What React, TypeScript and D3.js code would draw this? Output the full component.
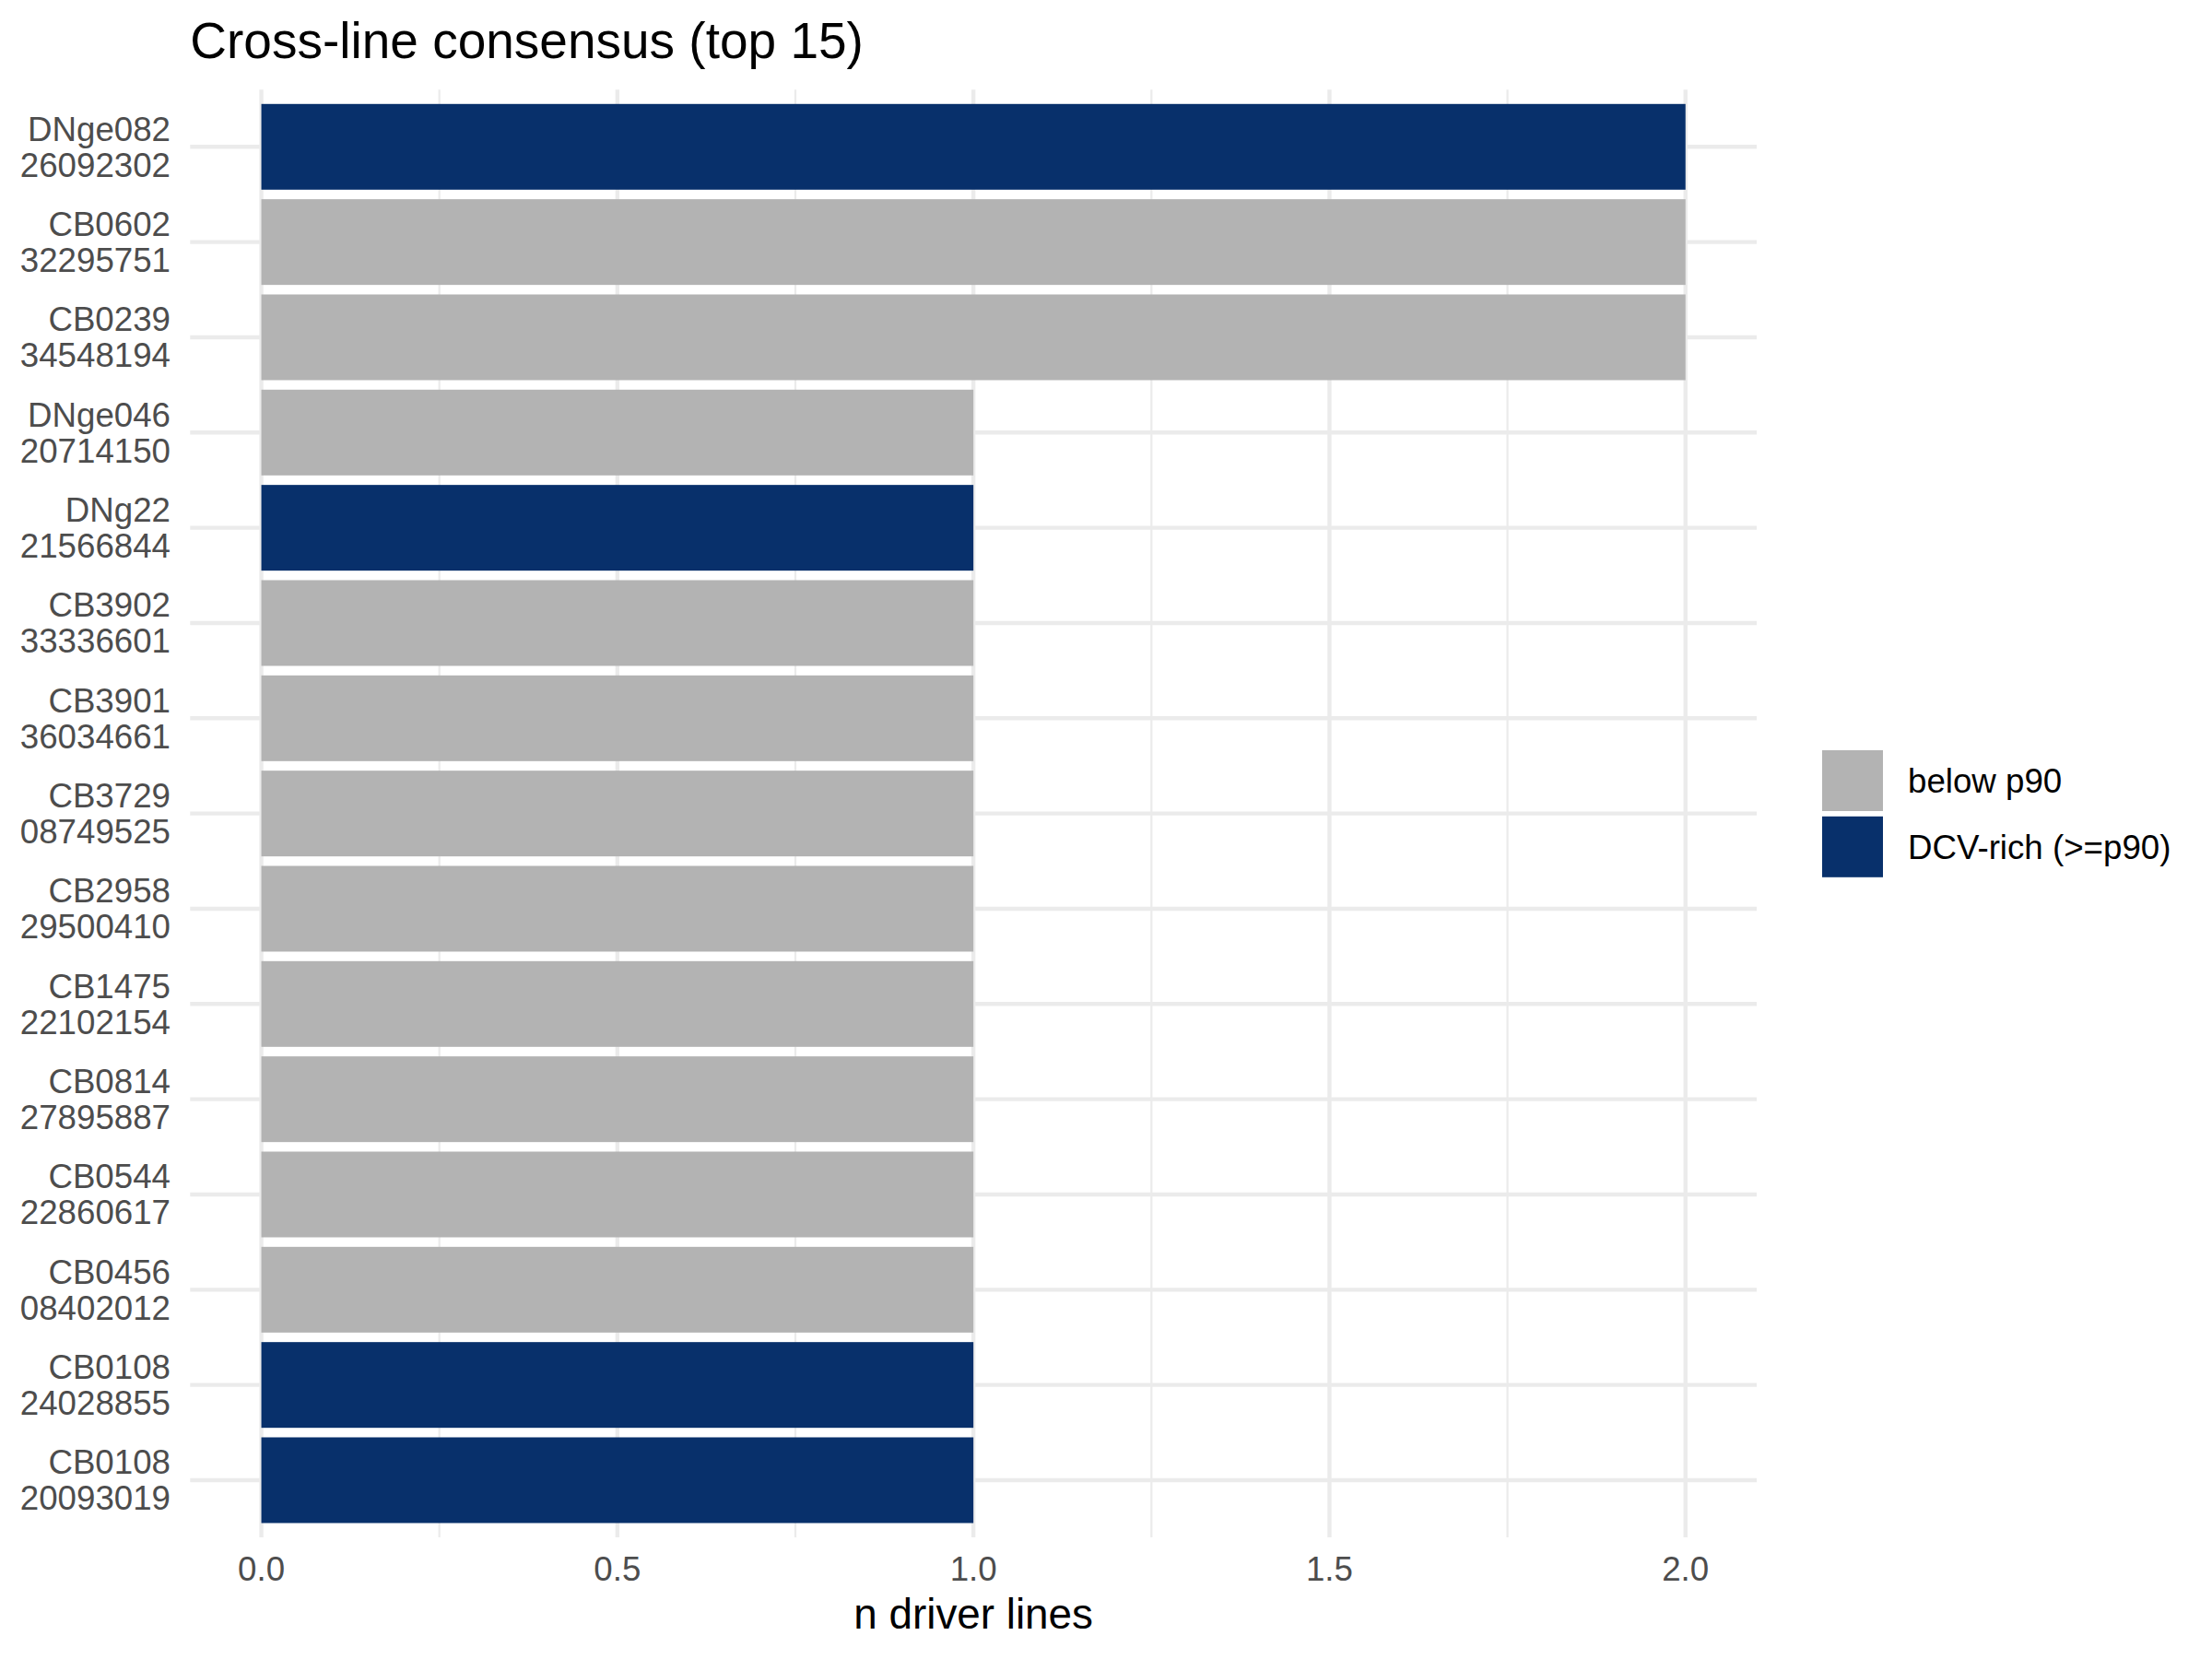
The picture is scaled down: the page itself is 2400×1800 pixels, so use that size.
import React from 'react';
import * as d3 from 'd3';

// rows top to bottom
const genes = [
  'DNge082', 'CB0602', 'CB0239', 'DNge046', 'DNg22', 'CB3902', 'CB3901', 'CB3729',
  'CB2958', 'CB1475', 'CB0814', 'CB0544', 'CB0456', 'CB0108', 'CB0108',
];
const ids = [
  '26092302', '32295751', '34548194', '20714150', '21566844', '33336601', '36034661', '08749525',
  '29500410', '22102154', '27895887', '22860617', '08402012', '24028855', '20093019',
];
const nLines = [2, 2, 2, 1, 1, 1, 1, 1, 1, 1, 1, 1, 1, 1, 1];
const group = [
  'rich', 'below', 'below', 'below', 'rich', 'below', 'below', 'below',
  'below', 'below', 'below', 'below', 'below', 'rich', 'rich',
];
const legendKeys = ['below', 'rich'];
const legendLabels = ['below p90', 'DCV-rich (>=p90)'];
const xTicks = [0, 0.5, 1, 1.5, 2];
const xMinor = [0.25, 0.75, 1.25, 1.75];

const W = 2400, H = 1800;
const FONT = '"Liberation Sans", Arial, Helvetica, sans-serif';

export default function App() {
  const keys = genes.map((g, i) => `${g}|${ids[i]}`);
  const x = d3.scaleLinear().domain([-0.1, 2.1]).range([206.3, 1906]);
  const y = d3.scaleBand<string>().domain(keys).range([97.3, 1668]).paddingInner(0.1).paddingOuter(0.15);
  const color = d3.scaleOrdinal<string, string>().domain(legendKeys).range(['#B3B3B3', '#08306B']);
  const fmt = d3.format('.1f');
  const [x0, x1] = x.range();
  const [y0, y1] = y.range();
  const mid = (k: string) => (y(k) ?? 0) + y.bandwidth() / 2;

  return (
    <svg width={W} height={H} style={{ position: 'absolute', left: 0, top: 0, background: '#fff' }} fontFamily={FONT}>
      <rect width={W} height={H} fill="#fff" />
      <text x={x0} y={63} fontSize={55} fill="#000">Cross-line consensus (top 15)</text>

      {/* grid */}
      {xMinor.map(v => (
        <line key={'m' + v} x1={x(v)} x2={x(v)} y1={y0} y2={y1} stroke="#EBEBEB" strokeWidth={2.2} />
      ))}
      {xTicks.map(v => (
        <line key={'M' + v} x1={x(v)} x2={x(v)} y1={y0} y2={y1} stroke="#EBEBEB" strokeWidth={4.4} />
      ))}
      {keys.map(k => (
        <line key={'h' + k} x1={x0} x2={x1} y1={mid(k)} y2={mid(k)} stroke="#EBEBEB" strokeWidth={4.4} />
      ))}

      {/* bars */}
      {keys.map((k, i) => (
        <rect key={'b' + k} x={x(0)} width={x(nLines[i]) - x(0)} y={y(k)} height={y.bandwidth()}
          fill={color(group[i])} />
      ))}

      {/* y labels */}
      {keys.map((k, i) => (
        <text key={'l' + k} textAnchor="end" fontSize={36.7} fill="#4D4D4D">
          <tspan x={185} y={mid(k) - 6.6}>{genes[i]}</tspan>
          <tspan x={185} y={mid(k) + 32.4}>{ids[i]}</tspan>
        </text>
      ))}

      {/* x ticks */}
      {xTicks.map(v => (
        <text key={'t' + v} x={x(v)} y={1715} textAnchor="middle" fontSize={36.7} fill="#4D4D4D">{fmt(v)}</text>
      ))}
      <text x={(x0 + x1) / 2} y={1767} textAnchor="middle" fontSize={45.8} fill="#000">n driver lines</text>

      {/* legend */}
      {legendKeys.map((g, i) => (
        <g key={'lg' + g} transform={`translate(1977,${814 + i * 71.8})`}>
          <rect width={66} height={66} fill={color(g)} />
          <text x={93} y={46} fontSize={36.7} fill="#000">{legendLabels[i]}</text>
        </g>
      ))}
    </svg>
  );
}
